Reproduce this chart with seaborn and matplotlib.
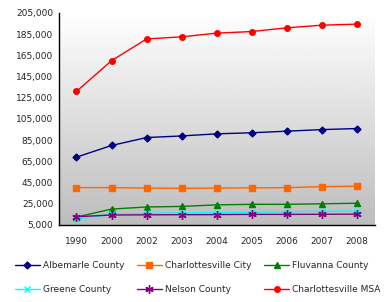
import numpy as np
import pandas as pd
import matplotlib
matplotlib.use("Agg")
import matplotlib.pyplot as plt
import seaborn as sns
from matplotlib.ticker import FuncFormatter

years = ["1990", "2000", "2002", "2003", "2004", "2005", "2006", "2007", "2008"]
albemarle = [69000, 80000, 87500, 89000, 91000, 92000, 93500, 95000, 96000]
cville_city = [40300, 40200, 39800, 39600, 39800, 40000, 40200, 41200, 41600]
fluvanna = [12500, 20000, 22000, 22500, 24000, 24500, 24500, 25000, 25500]
greene = [10500, 15200, 16000, 16400, 16700, 17000, 17500, 18000, 18000]
nelson = [12800, 14400, 14600, 14700, 14800, 15000, 15000, 15100, 15200]
msa = [131000, 160000, 180500, 182500, 186000, 187500, 191000, 193500, 194500]

series = [
    ("Albemarle County", albemarle, "#000080", "D", 3.5),
    ("Charlottesville City", cville_city, "#ff6600", "s", 5),
    ("Fluvanna County", fluvanna, "#008000", "^", 5),
    ("Greene County", greene, "#00ffff", "x", 4),
    ("Nelson County", nelson, "#800080", (6, 2, 0), 6),
    ("Charlottesville MSA", msa, "#ff0000", "o", 4),
]

sns.set_style("white")
plt.rcParams["font.family"] = ["DejaVu Sans"]

fig = plt.figure(figsize=(3.85, 3.02), dpi=100)
ax = fig.add_axes([0.153, 0.255, 0.82, 0.702])

# gradient background, white at top to grey at bottom
grad = np.linspace(1.0, 0.74, 256).reshape(-1, 1)
ax.imshow(grad, cmap="gray", vmin=0, vmax=1, aspect="auto",
          extent=[0, 1, 0, 1], transform=ax.transAxes, zorder=0)

for name, vals, color, marker, ms in series:
    df = pd.DataFrame({"year": years, "pop": vals})
    sns.lineplot(data=df, x="year", y="pop", ax=ax, color=color, marker=marker,
                 markersize=ms, linewidth=1.0, markeredgecolor=color,
                 markeredgewidth=1.0, label=name, zorder=3)

h, l = ax.get_legend_handles_labels()
ax.get_legend().remove()

ax.set_xlim(-0.5, 8.5)
ax.set_ylim(5000, 205000)
ax.set_yticks(np.arange(5000, 205001, 20000))
ax.yaxis.set_major_formatter(FuncFormatter(lambda v, p: f"{int(v):,}"))
ax.set_xlabel("")
ax.set_ylabel("")
ax.tick_params(axis="both", labelsize=6.5, length=0, pad=4)
ax.tick_params(axis="x", pad=9)
for s in ["top", "right"]:
    ax.spines[s].set_visible(False)
for s in ["left", "bottom"]:
    ax.spines[s].set_color("black")
    ax.spines[s].set_linewidth(1.0)

order = [0, 3, 1, 4, 2, 5]
fig.legend([h[i] for i in order], [l[i] for i in order], ncol=3,
           loc="lower left", bbox_to_anchor=(0.017, 0.0), frameon=False,
           fontsize=6.5, handlelength=2.8, handletextpad=0.3,
           columnspacing=1.4, labelspacing=1.65)

fig.savefig("out.png", dpi=100)
